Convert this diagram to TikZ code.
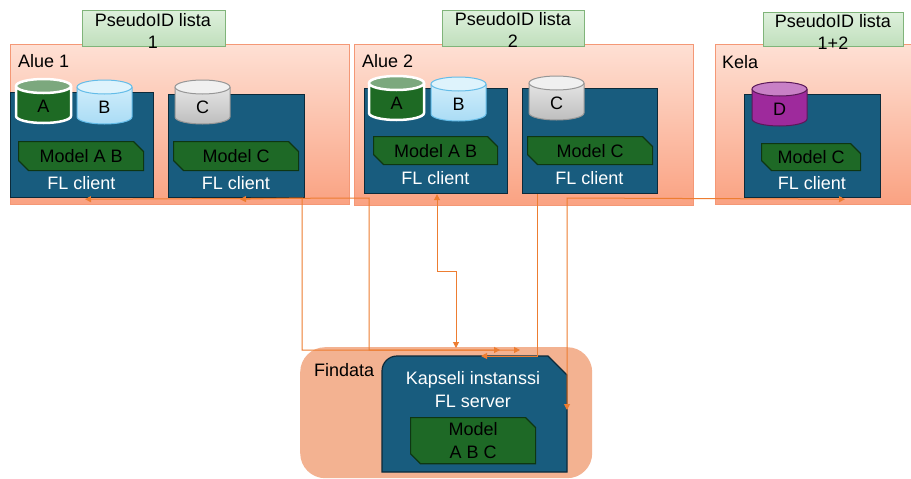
\documentclass[tikz,border=0pt]{standalone}
\usepackage{fontspec}
\setmainfont{Liberation Sans}
\usetikzlibrary{shapes.misc,arrows.meta,calc}
\definecolor{alueTop}{RGB}{254,224,212}
\definecolor{alueBot}{RGB}{250,162,130}
\definecolor{alueBorder}{RGB}{244,152,118}
\definecolor{labTop}{RGB}{222,240,220}
\definecolor{labBot}{RGB}{192,223,188}
\definecolor{labBorder}{RGB}{128,180,122}
\definecolor{clientFill}{RGB}{24,92,126}
\definecolor{clientBorder}{RGB}{12,42,58}
\definecolor{modelFill}{RGB}{30,105,38}
\definecolor{modelBorder}{RGB}{14,54,18}
\definecolor{findataFill}{RGB}{243,178,145}
\definecolor{connCol}{RGB}{237,125,49}
\definecolor{aBody}{RGB}{30,106,36}
\definecolor{aTop}{RGB}{124,168,126}
\definecolor{bBodyT}{RGB}{214,240,252}
\definecolor{bBodyB}{RGB}{170,220,245}
\definecolor{bTop}{RGB}{222,243,252}
\definecolor{bBorder}{RGB}{100,188,232}
\definecolor{cBodyT}{RGB}{236,236,236}
\definecolor{cBodyB}{RGB}{190,190,190}
\definecolor{cTop}{RGB}{240,240,240}
\definecolor{cBorder}{RGB}{150,150,150}
\definecolor{dBody}{RGB}{158,42,156}
\definecolor{dTop}{RGB}{200,128,198}
\definecolor{dBorder}{RGB}{90,24,88}
% #1 name, #2 left, #3 top, #4 body top colour, #5 body bottom colour, #6 top colour, #7 border style, #8 label
\newcommand\mycyl[8]{%
  \path[top color=#4,bottom color=#5] (#2,#3+7) -- (#2,#3+37)
     arc[start angle=180,end angle=0,x radius=27.5,y radius=7]
     -- (#2+55,#3+7)
     arc[start angle=0,end angle=-180,x radius=27.5,y radius=7] -- cycle;
  \draw[#7] (#2,#3+7) -- (#2,#3+37)
     arc[start angle=180,end angle=0,x radius=27.5,y radius=7]
     -- (#2+55,#3+7);
  \draw[#7,fill=#6] (#2+27.5,#3+7) ellipse[x radius=27.5,y radius=7];
  \node[cyltext] (#1) at (#2+27.5,#3+27) {#8};
}
\begin{document}
\begin{tikzpicture}[x=1pt,y=-1pt,
  font=\fontsize{18}{22}\selectfont,
  >={Triangle[length=6pt,width=6pt]},
  region/.style={rectangle,draw=alueBorder,line width=0.8pt,top color=alueTop,bottom color=alueBot,anchor=north west,inner sep=0},
  labelbox/.style={chamfered rectangle,chamfered rectangle corners=north east,chamfered rectangle xsep=8pt,chamfered rectangle ysep=8pt,draw=labBorder,line width=0.8pt,top color=labTop,bottom color=labBot,inner sep=0,anchor=north west},
  labeltext/.style={align=center,inner sep=0,font=\fontsize{18}{22}\selectfont},
  client/.style={rectangle,draw=clientBorder,line width=1.2pt,fill=clientFill,anchor=north west,inner sep=0},
  model/.style={chamfered rectangle,chamfered rectangle corners={north east,south west},chamfered rectangle xsep=5pt,chamfered rectangle ysep=5pt,draw=modelBorder,line width=1.2pt,fill=modelFill,inner sep=0,anchor=north west,text=black},
  whitetext/.style={text=white,inner sep=0},
  cyltext/.style={text=black,inner sep=0},
  regiontitle/.style={anchor=west,inner sep=0,text=black},
  conn/.style={draw=connCol,line width=1pt}
]
\clip (0,0) rectangle (911,479);
\fill[white] (0,0) rectangle (911,479);

% regions
\node[region,minimum width=339pt,minimum height=160pt] (alue1) at (10,44) {};
\node[region,minimum width=339pt,minimum height=161pt] (alue2) at (354,44) {};
\node[region,minimum width=220pt,minimum height=160pt] (kela) at (715,44) {};
\node[regiontitle] (t1) at (18,61) {Alue 1};
\node[regiontitle] (t2) at (362,61) {Alue 2};
\node[regiontitle] (t3) at (722,62) {Kela};

% pseudo ID labels
\node[labelbox,minimum width=143pt,minimum height=36pt] (lab1) at (82,10) {};
\node[labelbox,minimum width=142pt,minimum height=36pt] (lab2) at (442,10) {};
\node[labelbox,minimum width=140pt,minimum height=34pt] (lab3) at (763,12) {};
\node[labeltext] (lab1t) at (153,31) {PseudoID lista\\1};
\node[labeltext] (lab2t) at (513,30) {PseudoID lista\\2};
\node[labeltext] (lab3t) at (833,32) {PseudoID lista\\1+2};

% clients
\node[client,minimum width=143pt,minimum height=105pt] (c11) at (10,92) {};
\node[client,minimum width=136pt,minimum height=103pt] (c12) at (168,94) {};
\node[client,minimum width=143pt,minimum height=105pt] (c21) at (364,88) {};
\node[client,minimum width=135pt,minimum height=105pt] (c22) at (522,88) {};
\node[client,minimum width=136pt,minimum height=103pt] (ck) at (744,94) {};

% databases
\mycyl{dbA1}{16}{79}{aBody}{aBody}{aTop}{draw=white,line width=2.5pt}{A}
\mycyl{dbB1}{77}{80}{bBodyT}{bBodyB}{bTop}{draw=bBorder,line width=1pt}{B}
\mycyl{dbC1}{175}{80}{cBodyT}{cBodyB}{cTop}{draw=cBorder,line width=1pt}{C}
\mycyl{dbA2}{369}{76}{aBody}{aBody}{aTop}{draw=white,line width=2.5pt}{A}
\mycyl{dbB2}{431}{77}{bBodyT}{bBodyB}{bTop}{draw=bBorder,line width=1pt}{B}
\mycyl{dbC2}{529}{76}{cBodyT}{cBodyB}{cTop}{draw=cBorder,line width=1pt}{C}
\mycyl{dbD}{752}{82}{dBody}{dBody}{dTop}{draw=dBorder,line width=1pt}{D}

% models
\node[model,minimum width=125pt,minimum height=29pt] (m11) at (18,141) {Model A B};
\node[model,minimum width=125pt,minimum height=29pt] (m12) at (173,141) {Model C};
\node[model,minimum width=124pt,minimum height=28pt] (m21) at (373,136) {Model A B};
\node[model,minimum width=125pt,minimum height=28pt] (m22) at (527,136) {Model C};
\node[model,minimum width=99pt,minimum height=27pt] (mk) at (761,143) {Model C};

% FL client texts
\node[whitetext] (f11) at (81.5,183) {FL client};
\node[whitetext] (f12) at (236,183) {FL client};
\node[whitetext] (f21) at (435.5,178) {FL client};
\node[whitetext] (f22) at (589.5,178) {FL client};
\node[whitetext] (fk) at (812,183) {FL client};

% Findata
\node[rectangle,rounded corners=25pt,fill=findataFill,anchor=north west,inner sep=0,minimum width=292pt,minimum height=131pt] (findata) at (300,347) {};
\node[regiontitle] (tf) at (314,370) {Findata};
\draw[draw=clientBorder,line width=1.2pt,fill=clientFill]
  (382,472) -- (382,371) [rounded corners=15pt] -- (382,356) [sharp corners] -- (548,356) -- (567,375) -- (567,472) -- cycle;
\node[whitetext,align=center,font=\fontsize{18}{23}\selectfont] (srv) at (473,389.5) {Kapseli instanssi\\FL server};
\node[model,minimum width=125pt,minimum height=45pt,align=center,font=\fontsize{18}{23}\selectfont] (ms) at (410,417) {Model\\A B C};

% connector end points at the server
\coordinate (s1) at (500,350);
\coordinate (s2) at (520,350);
\coordinate (s3) at (456,348);
\coordinate (s4) at (481,356);
\coordinate (s5) at (567,410);
\coordinate (k4) at (537.5,356);

% connectors
\draw[conn,<->] ($(c11.south west)+(75,1)$) -- (369,198) -- (369,350) -- (s1);
\draw[conn,<->] ($(c12.south west)+(72,1)$) -- (302,198) -- (302,350) -- (s2);
\draw[conn,<->] ($(c21.south west)+(73,0)$) -- (437,271) -- (456,271) -- (s3);
\draw[conn] ($(c22.south west)+(15.5,0)$) -- (k4);
\draw[conn,->] (k4) -- (s4);
\draw[conn,<->] (s5) -- (567,198) -- ($(ck.south west)+(101,1)$);
\end{tikzpicture}
\end{document}
